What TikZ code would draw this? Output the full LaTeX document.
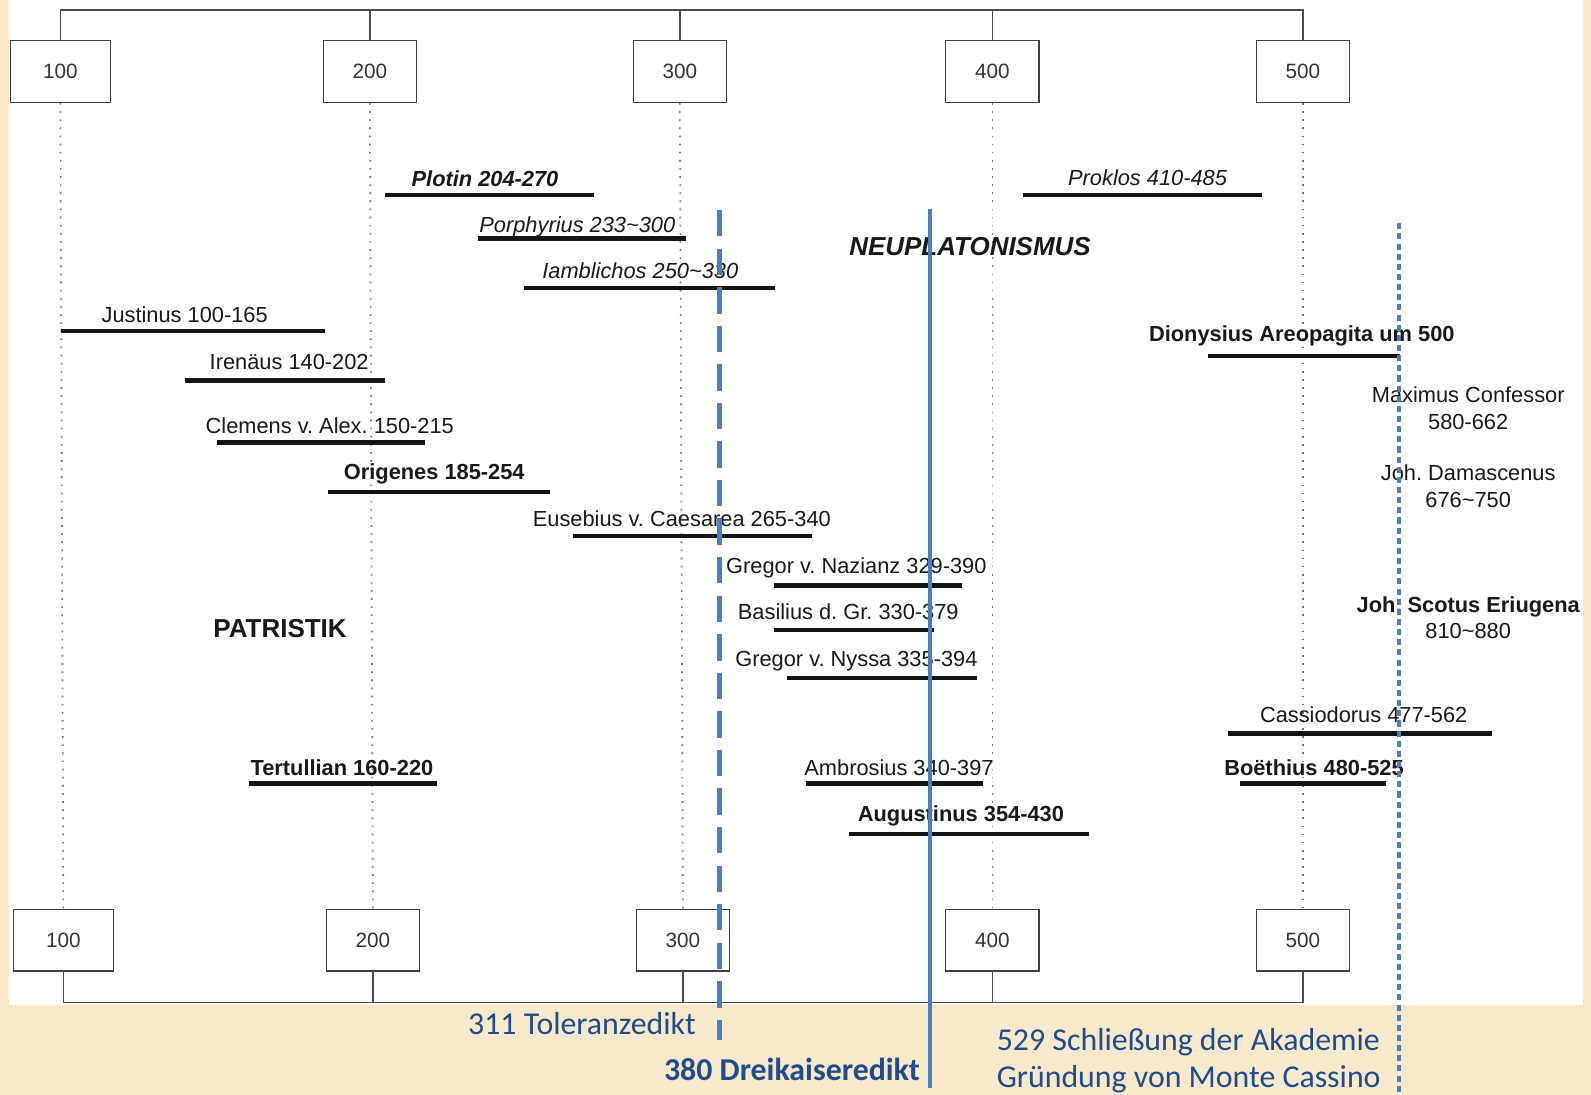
\documentclass[tikz,border=0pt]{standalone}
\usepackage{fontspec}
\setmainfont{Liberation Sans}
\newfontfamily\calibfont{Carlito}
\definecolor{parch}{RGB}{248,232,204}
\definecolor{evblue}{RGB}{74,126,193}
\definecolor{evtext}{RGB}{33,76,138}
\frenchspacing
\begin{document}
\begin{tikzpicture}[x=0.5pt,y=-0.5pt]
\tikzset{
 yearbox/.style={draw=black!75, line width=0.6pt, fill=white, minimum width=46pt, minimum height=30.5pt, inner sep=0pt, font=\fontsize{10.2}{12}\selectfont, text=black!80},
 lbl/.style={anchor=base, inner sep=0pt, text=black!90, font=\fontsize{10.75}{13}\selectfont},
 lblb/.style={lbl, font=\fontsize{10.75}{13}\selectfont\bfseries},
 lbli/.style={lbl, font=\fontsize{10.75}{13}\selectfont\itshape},
 lblbi/.style={lbl, font=\fontsize{10.75}{13}\selectfont\bfseries\itshape},
 bigb/.style={lbl, font=\fontsize{12.8}{15}\selectfont\bfseries},
 bigbi/.style={lbl, font=\fontsize{12.8}{15}\selectfont\bfseries\itshape},
 lifebar/.style={line width=2.2pt, black!92},
 frame/.style={line width=0.8pt, black!70},
 dotline/.style={line width=0.8pt, black!55, dash pattern=on 0.8pt off 3.2pt},
 evtxt/.style={inner sep=0pt, anchor=base, text=evtext, font=\calibfont\fontsize{15.7}{18}\selectfont},
 evdash/.style={evblue, line width=2.5pt, dash pattern=on 13pt off 6pt},
 evsolid/.style={evblue, line width=2pt},
 evdot/.style={evblue, line width=2.2pt, dash pattern=on 3pt off 2pt},
}
% background
\fill[parch] (0,0) rectangle (1568,1079);
\fill[white] (9,0) rectangle (1560,990);
\useasboundingbox (0,0) rectangle (1568,1079);

% year boxes top
\node[yearbox, minimum width=49.5pt] (t1) at (59.5,70.5) {100};
\node[yearbox] (t2) at (364.5,70.5) {200};
\node[yearbox] (t3) at (670,70.5) {300};
\node[yearbox] (t4) at (978,70.5) {400};
\node[yearbox] (t5) at (1284,70.5) {500};
% year boxes bottom
\node[yearbox, minimum width=49.5pt] (b1) at (62.5,926.5) {100};
\node[yearbox] (b2) at (367.5,926.5) {200};
\node[yearbox] (b3) at (673,926.5) {300};
\node[yearbox] (b4) at (978,926.5) {400};
\node[yearbox] (b5) at (1284,926.5) {500};

\coordinate (topy) at (0,10);
\coordinate (boty) at (0,988);
\draw[frame] (t1.north) -- (t1.north |- topy) -- (t5.north |- topy) -- (t5.north);
\foreach \n in {t2,t3,t4} \draw[frame] (\n.north) -- (\n.north |- topy);
\draw[frame] (b1.south) -- (b1.south |- boty) -- (b5.south |- boty) -- (b5.south);
\foreach \n in {b2,b3,b4} \draw[frame] (\n.south) -- (\n.south |- boty);
\foreach \i in {1,...,5} \draw[dotline] (t\i.south) -- (b\i.north);

% labels and bars
\node[lblbi] (plotin) at (478,184) {Plotin 204-270};
\draw[lifebar] (379,192) -- (585,192);
\node[lbli] (porph) at (569,229) {Porphyrius 233\textasciitilde 300};
\draw[lifebar] (471,235) -- (676,235);
\node[lbli] (iamb) at (631,274) {Iamblichos 250\textasciitilde 330};
\draw[lifebar] (516,284) -- (764,284);
\node[lbl] (just) at (182,318) {Justinus 100-165};
\draw[lifebar] (60,326) -- (320,326);
\node[lbl] (iren) at (285,364) {Irenäus 140-202};
\draw[lifebar] (182,375) -- (379,375);
\node[lbl] (clem) at (325,427) {Clemens v. Alex. 150-215};
\draw[lifebar] (214,436) -- (419,436);
\node[lblb] (orig) at (428,473) {Origenes 185-254};
\draw[lifebar] (323,485) -- (542,485);
\node[lbl] (euseb) at (672,519) {Eusebius v. Caesarea 265-340};
\draw[lifebar] (565,528) -- (800,528);
\node[lbl] (gnaz) at (844,565) {Gregor v. Nazianz 329-390};
\draw[lifebar] (763,577) -- (948,577);
\node[lbl] (basil) at (836,611) {Basilius d. Gr. 330-379};
\draw[lifebar] (763,621) -- (920,621);
\node[lbl] (gnyss) at (844,657) {Gregor v. Nyssa 335-394};
\draw[lifebar] (776,668) -- (963,668);
\node[lblb] (tert) at (337,764) {Tertullian 160-220};
\draw[lifebar] (245,772) -- (431,772);
\node[lbl] (ambr) at (886,764) {Ambrosius 340-397};
\draw[lifebar] (794,772) -- (969,772);
\node[lblb] (aug) at (947,810) {Augustinus 354-430};
\draw[lifebar] (837,822) -- (1073,822);
\node[lbli] (prok) at (1131,183) {Proklos 410-485};
\draw[lifebar] (1008,192) -- (1244,192);
\node[bigbi] (neupl) at (956,252) {NEUPLATONISMUS};
\node[bigb] (patr) at (276,628) {PATRISTIK};
\node[lblb] (dion) at (1283,337) {Dionysius Areopagita um 500};
\draw[lifebar] (1191,351) -- (1380,351);
\node[lbl] (max1) at (1447,397) {Maximus Confessor};
\node[lbl] (max2) at (1447,423) {580-662};
\node[lbl] (dam1) at (1447,474) {Joh. Damascenus};
\node[lbl] (dam2) at (1447,500) {676\textasciitilde 750};
\node[lblb] (eri1) at (1447,604) {Joh. Scotus Eriugena};
\node[lbl] (eri2) at (1447,629) {810\textasciitilde 880};
\node[lbl] (cass) at (1344,712) {Cassiodorus 477-562};
\draw[lifebar] (1210,723) -- (1470,723);
\node[lblb] (boeth) at (1295,764) {Boëthius 480-525};
\draw[lifebar] (1222,772) -- (1366,772);

% event lines
\coordinate (e1a) at (709,207); \coordinate (e1b) at (709,1025);
\coordinate (e2a) at (917,206); \coordinate (e2b) at (917,1072);
\coordinate (e3a) at (1379,220); \coordinate (e3b) at (1379,1079);
\draw[evdash] (e1a) -- (e1b);
\draw[evsolid] (e2a) -- (e2b);
\draw[evdot] (e3a) -- (e3b);

% event texts
\node[evtxt, anchor=base east] (tol) at (686,1020) {311 Toleranzedikt};
\node[evtxt, anchor=base east, font=\calibfont\fontsize{15.7}{18}\selectfont\bfseries] (drei) at (907,1065) {380 Dreikaiseredikt};
\node[evtxt, anchor=base west] (akad) at (982,1035) {529 Schließung der Akademie};
\node[evtxt, anchor=base west] (monte) at (982,1072) {Gründung von Monte Cassino};
\end{tikzpicture}
\end{document}
